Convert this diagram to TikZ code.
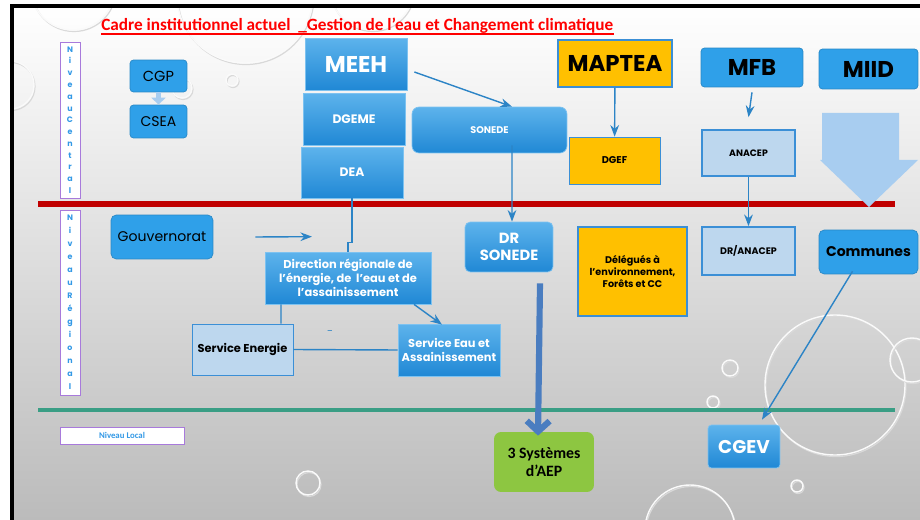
\documentclass[tikz,border=0pt]{standalone}
\usepackage{fontspec}
\setmainfont{Carlito}
\newfontfamily\gothic{Poppins}
\usetikzlibrary{arrows.meta}

\definecolor{flatblue}{HTML}{2FA0E9}
\definecolor{gradtop}{HTML}{5DB3EC}
\definecolor{gradbot}{HTML}{2088D5}
\definecolor{paleblue}{HTML}{BDD7EE}
\definecolor{paleedge}{HTML}{3B8FD6}
\definecolor{jaune}{HTML}{FFC000}
\definecolor{vert}{HTML}{8DC641}
\definecolor{linkblue}{HTML}{2C84C6}
\definecolor{heavyblue}{HTML}{4A7DC0}
\definecolor{arrowpale}{HTML}{A8CDF0}
\definecolor{titlered}{HTML}{FF0000}
\definecolor{rulered}{HTML}{C00000}
\definecolor{rulegreen}{HTML}{3A9E85}
\definecolor{violet}{HTML}{A87ADB}
\definecolor{letterblue}{HTML}{3399E6}
\definecolor{bggray}{HTML}{BBBBBB}

\newcommand{\fsz}[2]{\fontsize{#1}{#2}\selectfont}

\tikzset{
  box/.style={inner sep=1pt, align=center},
  flatbox/.style={box, fill=flatblue, draw=flatblue!85!black, rounded corners=2pt},
  gradbox/.style={box, top color=gradtop, bottom color=gradbot, draw=gradtop!80!white, text=white, font=\gothic\bfseries},
  palebox/.style={box, fill=paleblue, draw=paleedge, font=\gothic\bfseries},
  yellowbox/.style={box, fill=jaune, draw=paleedge, font=\gothic\bfseries},
  levelbox/.style={box, fill=white, draw=violet, text=letterblue, inner sep=0pt},
  link/.style={draw=linkblue, line width=0.8pt},
  bubble/.style={draw=white!96!gray, line width=0.8pt},
  bubbleshadow/.style={draw=gray!30, line width=0.7pt}
}

\begin{document}
\begin{tikzpicture}[x=0.02cm, y=-0.02cm, >=Stealth, font=\gothic]
\useasboundingbox (0,0) rectangle (920,520);

% fond
\shade[top color=white, bottom color=bggray] (12,6) rectangle (920,520);
\begin{scope}
\clip (12,6) rectangle (920,520);
\foreach \x/\y/\r in {10/85/24, 73/-12/42, 245/-5/68, 372/-12/42, 232/80/6, 182/88/10,
  308/483/12, 690/530/45, 797/486/6, 713/402/6, 835/385/70, 730/368/8, 912/360/22}{
  \draw[bubbleshadow] (\x+1,\y+1.5) circle (\r);
  \draw[bubble] (\x,\y) circle (\r);
}
\end{scope}
\draw[line width=1.8pt] (12,520) -- (12,6) -- (920,6);

% titre
\node[inner sep=0pt, anchor=base west, text=titlered, font=\bfseries\fsz{9.8}{11}] (titre) at (101,31)
  {Cadre institutionnel actuel\ \ \_Gestion de l’eau et Changement climatique};
\draw[titlered, line width=1.1pt] ([yshift=-1.6pt]titre.base west) -- ([yshift=-1.6pt]titre.base east);

% niveaux
\draw[rulered, line width=3.2pt] (38,204) -- (895,204);
\draw[rulegreen, line width=2.8pt] (38,410) -- (895,410);

\node[levelbox, minimum width=0.4cm, minimum height=3.12cm, font=\gothic\bfseries\fsz{4.5}{6.7}] (central) at (70,120)
  {N\\i\\v\\e\\a\\u\\C\\e\\n\\t\\r\\a\\l};
\node[levelbox, minimum width=0.4cm, minimum height=3.7cm, font=\gothic\bfseries\fsz{4.5}{7.4}] (regional) at (70,302.5)
  {N\\i\\v\\e\\a\\u\\R\\é\\g\\i\\o\\n\\a\\l};
\node[levelbox, minimum width=2.48cm, minimum height=0.34cm, font=\bfseries\fsz{5}{6}] (local) at (122,435.5) {Niveau Local};

% niveau central
\node[flatbox, minimum width=1.14cm, minimum height=0.64cm, font=\gothic\fsz{8.3}{10}] (cgp) at (158.5,76) {CGP};
\node[flatbox, minimum width=1.14cm, minimum height=0.66cm, font=\gothic\fsz{8}{10}] (csea) at (158.5,121.5) {CSEA};
\draw[arrowpale, line width=3pt, -{Triangle[length=4pt,width=8pt]}] (cgp.south) -- (csea.north);

\node[gradbox, minimum width=2.04cm, minimum height=1.04cm, font=\gothic\bfseries\fsz{13}{15}] (meeh) at (356,64) {MEEH};
\node[gradbox, minimum width=2.04cm, minimum height=1.04cm, font=\gothic\bfseries\fsz{7}{9}] (dgeme) at (354,119) {DGEME};
\node[gradbox, minimum width=2.04cm, minimum height=1.02cm, font=\gothic\bfseries\fsz{7}{9}] (dea) at (352,172.5) {DEA};
\node[gradbox, rounded corners=4pt, minimum width=3.1cm, minimum height=0.92cm, font=\gothic\bfseries\fsz{5.5}{7}] (sonede) at (489.5,130) {SONEDE};

\node[yellowbox, minimum width=2.28cm, minimum height=0.94cm, line width=1pt, font=\gothic\bfseries\fsz{13}{15}] (maptea) at (615,63.5) {MAPTEA};
\node[yellowbox, minimum width=1.82cm, minimum height=0.94cm, font=\gothic\bfseries\fsz{5.6}{7}] (dgef) at (614.5,160.5) {DGEF};

\node[flatbox, minimum width=2.04cm, minimum height=0.78cm, font=\gothic\bfseries\fsz{13}{15}] (mfb) at (752,67.5) {MFB};
\node[flatbox, minimum width=1.98cm, minimum height=0.8cm, font=\gothic\bfseries\fsz{13}{15}] (miid) at (868.5,69) {MIID};
\node[palebox, minimum width=1.86cm, minimum height=0.92cm, line width=1pt, font=\gothic\bfseries\fsz{5.3}{7}] (anacep) at (748.5,153) {ANACEP};

% grande fleche MIID
\fill[arrowpale] (822,113) -- (899,113) -- (899,160) -- (918,160) -- (869,207) -- (820,160) -- (822,160) -- cycle;

% niveau regional
\node[flatbox, rounded corners=3pt, minimum width=2.04cm, minimum height=0.88cm, font=\gothic\fsz{8}{10}] (gouv) at (162,237) {Gouvernorat};
\node[gradbox, minimum width=3.32cm, minimum height=1.04cm, font=\gothic\bfseries\fsz{6.5}{8}] (direction) at (348,278)
  {Direction régionale de\\l’énergie, de\ \ l’eau et de\\l’assainissement};
\node[palebox, minimum width=2.02cm, minimum height=1.02cm, text=black, font=\gothic\bfseries\fsz{6.5}{8}] (energie) at (242.5,349.5) {Service Energie};
\node[gradbox, minimum width=2.04cm, minimum height=1.04cm, font=\gothic\bfseries\fsz{6.5}{8}] (eau) at (449,350) {Service Eau et\\Assainissement};
\node[gradbox, rounded corners=3pt, minimum width=1.76cm, minimum height=1cm, font=\gothic\bfseries\fsz{8.4}{9.5}] (drsonede) at (509,247) {DR\\SONEDE};
\node[yellowbox, minimum width=2.18cm, minimum height=1.78cm, line width=1pt, font=\gothic\bfseries\fsz{5.5}{6.8}] (delegues) at (632.5,271.5)
  {Délégués à\\l’environnement,\\Forêts et CC};
\node[palebox, minimum width=1.86cm, minimum height=0.96cm, line width=1pt, font=\gothic\bfseries\fsz{5.4}{7}] (dranacep) at (748.5,251) {DR/ANACEP};
\node[flatbox, rounded corners=3pt, minimum width=1.98cm, minimum height=0.88cm, font=\gothic\bfseries\fsz{8}{10}] (communes) at (868.5,252) {Communes};
\node[inner sep=0pt, text=linkblue, font=\fsz{7}{8}] (tiret) at (330,333) {–};

% niveau local
\node[box, fill=vert, rounded corners=4pt, minimum width=2cm, minimum height=1.2cm, font=\bfseries\fsz{9}{10.5}] (aep) at (544,462) {3 Systèmes\\d’AEP};
\node[gradbox, rounded corners=2pt, minimum width=1.44cm, minimum height=0.86cm, font=\gothic\bfseries\fsz{10.5}{12}] (cgev) at (744,446.5) {CGEV};

% liaisons
\draw[link, ->] ([shift={(7,8)}]meeh.east) -- ([shift={(22.5,0)}]sonede.north);
\draw[link, ->] ([shift={(22.5,-8)}]sonede.south) -- ([shift={(3,0)}]drsonede.north);
\draw[link, ->] (maptea) -- (dgef);
\draw[link, ->] ([shift={(0,5)}]mfb.south) -- ([shift={(0,-12)}]anacep.north);
\draw[link, ->] (anacep) -- (dranacep);
\draw[link, ->] ([shift={(-16,-3)}]communes.south) -- ([shift={(18,-5)}]cgev.north);
\draw[link, ->] ([shift={(42,0)}]gouv.east) -- ([shift={(-36,-15)}]direction.north);
\draw[link] (dea.south) -- ++(0,44) -| (direction.north);
\draw[link] ([shift={(-67,0)}]direction.south) -- ([shift={(38.5,0)}]energie.north);
\draw[link] (energie.east) -- (eau.west);
\draw[link, ->] ([shift={(66,0)}]direction.south) -- ([shift={(-7,1)}]eau.north);
\draw[heavyblue, line width=3.5pt, -{Straight Barb[length=6pt,width=13pt]}]
  ([shift={(31,11)}]drsonede.south) -- ([shift={(-6,4)}]aep.north);
\end{tikzpicture}
\end{document}
